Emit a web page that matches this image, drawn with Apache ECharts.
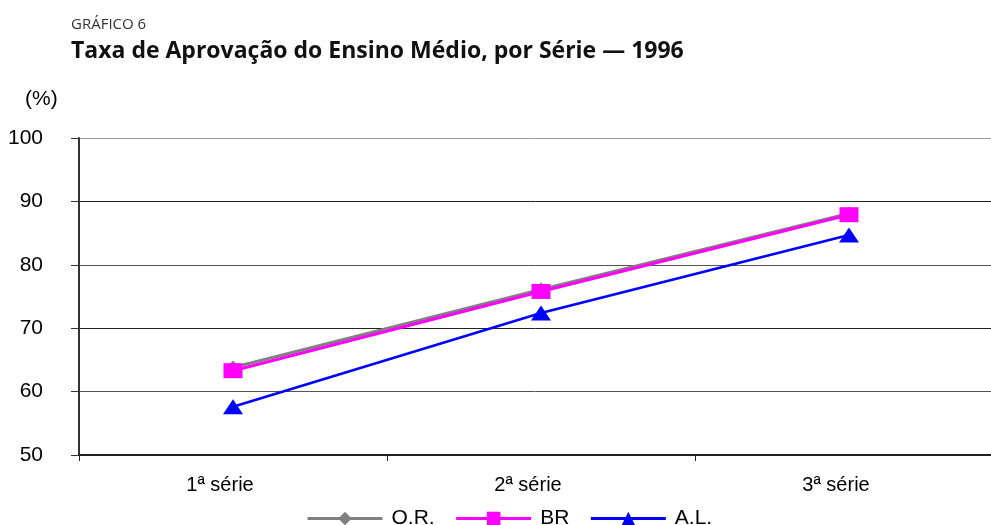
<!DOCTYPE html>
<html>
<head>
<meta charset="utf-8">
<script src="https://cdn.jsdelivr.net/npm/echarts@6/dist/echarts.min.js"></script>
<style>
html, body { margin: 0; padding: 0; background: #fff; }
#chart { width: 991px; height: 525px; }
</style>
</head>
<body>
<div id="chart"></div>
<script>
var categories = ['1ª série', '2ª série', '3ª série'];
var seriesNames = ['O.R.', 'BR', 'A.L.'];
var orValues = [63.8, 76.1, 88.1];
var brValues = [63.3, 75.8, 87.9];
var alValues = [57.6, 72.4, 84.7];

var myChart = echarts.init(document.getElementById('chart'));
var option = {
    backgroundColor: '#fff',
    animation: false,
    title: [
        {
            text: 'GRÁFICO 6',
            left: 66, top: 12,
            textStyle: { fontFamily: 'Open Sans', fontWeight: 'normal', fontSize: 15, color: '#333' }
        },
        {
            text: 'Taxa de Aprovação do Ensino Médio, por Série — 1996',
            left: 66, top: 35,
            textStyle: { fontFamily: 'Open Sans', fontWeight: 'bold', fontSize: 23, color: '#111' }
        },
        {
            text: '(%)',
            left: 20, top: 84,
            textStyle: { fontFamily: 'Liberation Sans', fontWeight: 'normal', fontSize: 21, color: '#000' }
        }
    ],
    legend: {
        data: seriesNames,
        top: 503,
        left: 301,
        itemWidth: 75,
        itemHeight: 17,
        itemGap: 20,
        lineStyle: { width: 3 },
        textStyle: { fontFamily: 'Liberation Sans', fontSize: 21, color: '#000', padding: [0, 0, 0, 4] }
    },
    grid: { left: 79, width: 924, top: 138, height: 317, containLabel: false, outerBoundsMode: 'none' },
    xAxis: {
        type: 'category',
        data: categories,
        boundaryGap: true,
        axisLine: { lineStyle: { color: '#222', width: 2 } },
        axisTick: { show: true, length: 6, lineStyle: { color: '#222' } },
        axisLabel: { margin: 20, padding: [0, 26, 0, 0], fontFamily: 'Liberation Sans', fontSize: 20, color: '#000' }
    },
    yAxis: {
        type: 'value',
        min: 50, max: 100, interval: 10,
        axisLine: { show: true, lineStyle: { color: '#333', width: 2 } },
        axisTick: { show: true, length: 8, lineStyle: { color: '#333' } },
        axisLabel: { margin: 36, fontFamily: 'Liberation Sans', fontSize: 21, color: '#000' },
        splitLine: { lineStyle: { color: ['#444', '#555', '#222', '#555', '#222', '#999'], width: 1 } }
    },
    series: [
        {
            name: 'O.R.', type: 'line', data: orValues,
            symbol: 'diamond', symbolSize: 14,
            lineStyle: { color: '#808080', width: 3 },
            itemStyle: { color: '#808080' }
        },
        {
            name: 'BR', type: 'line', data: brValues,
            symbol: 'rect', symbolSize: [19, 15],
            lineStyle: { color: '#ff00ff', width: 3 },
            itemStyle: { color: '#ff00ff' }
        },
        {
            name: 'A.L.', type: 'line', data: alValues,
            symbol: 'triangle', symbolSize: [20, 15],
            lineStyle: { color: '#0000ff', width: 2.5 },
            itemStyle: { color: '#0000ff' }
        }
    ]
};
myChart.setOption(option);
</script>
</body>
</html>
